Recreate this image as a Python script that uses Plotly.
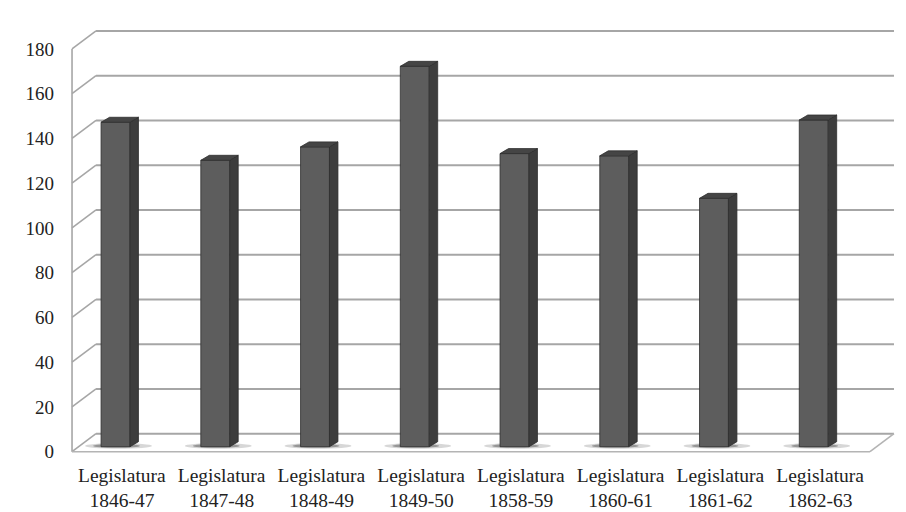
import plotly.graph_objects as go

# Sessions and number of items per legislative session
categories = ["1846-47", "1847-48", "1848-49", "1849-50",
              "1858-59", "1860-61", "1861-62", "1862-63"]
values = [145, 128, 134, 170, 131, 130, 111, 146]
y_ticks = [0, 20, 40, 60, 80, 100, 120, 140, 160, 180]

# Oblique-projection constants, expressed in axis units
BAR_DX = -0.064      # column front face offset from the category centre
BAR_W = 0.29         # column front face width
SIDE_DX = 0.085      # column depth, horizontal
SIDE_DY = 2.23       # column depth, vertical
FRONT_DY = -2.23     # front edge of the floor relative to the column base
WALL_DX = 0.2406     # floor depth, horizontal
WALL_DY = 8.04       # floor depth, vertical
X_LEFT, X_RIGHT = -0.5, 7.5

FRONT_COL = "#5d5d5d"
SIDE_COL = "#3d3d3d"
TOP_COL = "#454545"
EDGE_COL = "#2e2e2e"
GRID_COL = "#a6a6a6"
FLOOR_COL = "#b4b4b4"
FONT = "'Liberation Serif', 'Times New Roman', Times, serif"

fig = go.Figure()
shapes = []

back_left = X_LEFT + WALL_DX
back_right = X_RIGHT + WALL_DX
front_base = FRONT_DY
back_base = FRONT_DY + WALL_DY

# back-wall gridlines and side-wall diagonals
for t in y_ticks:
    shapes.append(dict(type="line", xref="x", yref="y", layer="below",
                       x0=back_left, x1=back_right,
                       y0=t + back_base, y1=t + back_base,
                       line=dict(color=GRID_COL, width=2)))
    shapes.append(dict(type="line", xref="x", yref="y", layer="below",
                       x0=X_LEFT, x1=back_left,
                       y0=t + front_base, y1=t + back_base,
                       line=dict(color=GRID_COL, width=1.6)))

# left wall front edge
shapes.append(dict(type="line", xref="x", yref="y", layer="below",
                   x0=X_LEFT, x1=X_LEFT,
                   y0=front_base, y1=y_ticks[-1] + front_base,
                   line=dict(color=GRID_COL, width=1.6)))
# floor front and right edges
shapes.append(dict(type="line", xref="x", yref="y", layer="below",
                   x0=X_LEFT, x1=X_RIGHT, y0=front_base, y1=front_base,
                   line=dict(color=FLOOR_COL, width=1.6)))
shapes.append(dict(type="line", xref="x", yref="y", layer="below",
                   x0=X_RIGHT, x1=back_right, y0=front_base, y1=back_base,
                   line=dict(color=FLOOR_COL, width=1.6)))

# soft shadows at the column bases
for i in range(len(values)):
    xl = i + BAR_DX - BAR_W / 2
    xr = xl + BAR_W
    shapes.append(dict(type="circle", xref="x", yref="y", layer="below",
                       x0=xl - 0.16, x1=xr + 0.22, y0=-0.9, y1=1.6,
                       fillcolor="rgba(140,140,140,0.35)", line=dict(width=0)))
    shapes.append(dict(type="circle", xref="x", yref="y", layer="below",
                       x0=xl - 0.08, x1=xr + 0.1, y0=-0.5, y1=1.2,
                       fillcolor="rgba(70,70,70,0.45)", line=dict(width=0)))

# column front faces
fig.add_trace(go.Bar(
    x=[i + BAR_DX for i in range(len(values))], y=values, width=BAR_W,
    marker=dict(color=FRONT_COL, line=dict(color=EDGE_COL, width=0.8)),
    hoverinfo="skip", showlegend=False))

# column side and top faces
for i, v in enumerate(values):
    xl = i + BAR_DX - BAR_W / 2
    xr = xl + BAR_W
    fig.add_trace(go.Scatter(
        x=[xr, xr + SIDE_DX, xr + SIDE_DX, xr, xr],
        y=[0, SIDE_DY, v + SIDE_DY, v, 0],
        mode="lines", fill="toself", fillcolor=SIDE_COL,
        line=dict(color=EDGE_COL, width=0.8),
        hoverinfo="skip", showlegend=False))
    fig.add_trace(go.Scatter(
        x=[xl, xl + SIDE_DX, xr + SIDE_DX, xr, xl],
        y=[v, v + SIDE_DY, v + SIDE_DY, v, v],
        mode="lines", fill="toself", fillcolor=TOP_COL,
        line=dict(color=EDGE_COL, width=0.8),
        hoverinfo="skip", showlegend=False))

fig.update_layout(
    width=906, height=512,
    margin=dict(l=60, r=0, t=10, b=54, autoexpand=False),
    paper_bgcolor="white", plot_bgcolor="white",
    shapes=shapes,
    font=dict(family=FONT, size=19, color="#222222"),
    xaxis=dict(range=[-0.6206, 7.861], showgrid=False, zeroline=False,
               showline=False, tickmode="array", automargin=False,
               tickvals=list(range(len(categories))),
               ticktext=["Legislatura<br>" + c for c in categories],
               ticks="", ticklabelstandoff=3,
               tickfont=dict(family=FONT, size=19.5, color="#222222")),
    yaxis=dict(range=[-5.05, 195.17], showgrid=False, zeroline=False,
               showline=False, tickmode="array", automargin=False,
               tickvals=[t + FRONT_DY for t in y_ticks],
               ticktext=[str(t) for t in y_ticks],
               ticks="", ticklabelstandoff=5,
               tickfont=dict(family=FONT, size=19, color="#222222")),
)

fig.write_html("out.html")
